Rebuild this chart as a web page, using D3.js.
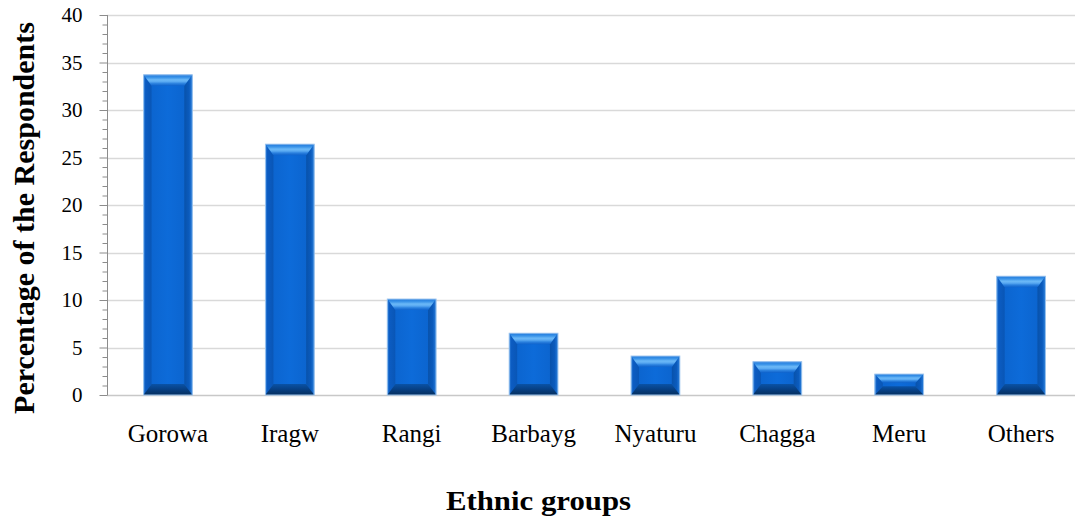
<!DOCTYPE html>
<html>
<head>
<meta charset="utf-8">
<script src="https://cdn.jsdelivr.net/npm/d3@7/dist/d3.min.js"></script>
<style>
  html, body { margin: 0; padding: 0; background: #fff; }
  svg { display: block; }
</style>
</head>
<body>
<svg id="chart" width="1075" height="521"></svg>
<script>
const categories = ["Gorowa", "Iragw", "Rangi", "Barbayg", "Nyaturu", "Chagga", "Meru", "Others"];
const values = [33.7, 26.4, 10.1, 6.5, 4.1, 3.5, 2.2, 12.5];
const yTicks = [0, 5, 10, 15, 20, 25, 30, 35, 40];
const yTitle = "Percentage of the Respondents";
const xTitle = "Ethnic groups";

const W = 1075, H = 521;
const plot = { left: 107, right: 1082, top: 15, bottom: 395 };

const svg = d3.select("#chart");
const serif = "'Liberation Serif', 'Times New Roman', serif";

const x = d3.scaleBand().domain(categories).range([plot.left, plot.right])
  .paddingInner(0.6).paddingOuter(0.3);
const y = d3.scaleLinear().domain([0, 40]).range([plot.bottom, plot.top]);

// defs: gradients
const defs = svg.append("defs");
function lin(id, x1, y1, x2, y2, stops) {
  const g = defs.append("linearGradient").attr("id", id)
    .attr("x1", x1).attr("y1", y1).attr("x2", x2).attr("y2", y2);
  stops.forEach(s => g.append("stop").attr("offset", s[0]).attr("stop-color", s[1]));
}
lin("gFace", 0, 0, 1, 0, [[0, "#0b62cb"], [0.5, "#0d6bd9"], [1, "#0b62cb"]]);
lin("gTop", 0, 0, 0, 1, [[0, "#2079dc"], [0.25, "#3c95e9"], [0.45, "#6cb9f7"], [0.62, "#5aaaf2"], [0.8, "#2a80de"], [1, "#0f62cb"]]);
lin("gBot", 0, 0, 0, 1, [[0, "#0a52a6"], [0.5, "#073f82"], [1, "#052f5e"]]);
lin("gLeft", 0, 0, 1, 0, [[0, "#3a8ae2"], [0.25, "#0c5cc2"], [1, "#0956b6"]]);
lin("gRight", 0, 0, 1, 0, [[0, "#0852ab"], [0.6, "#0b5bbd"], [1, "#2a7fdc"]]);

// gridlines
svg.append("g").selectAll("line").data(yTicks.filter(d => d > 0)).join("line")
  .attr("x1", plot.left).attr("x2", plot.right)
  .attr("y1", d => Math.round(y(d)) + 0.5).attr("y2", d => Math.round(y(d)) + 0.5)
  .attr("stroke", "#d9d9d9").attr("stroke-width", 1.3);

// baseline
svg.append("line")
  .attr("x1", plot.left).attr("x2", plot.right)
  .attr("y1", Math.round(y(0)) + 0.5).attr("y2", Math.round(y(0)) + 0.5)
  .attr("stroke", "#c8c8c8").attr("stroke-width", 1.3);

// y axis with minor ticks
const minor = d3.range(0, 41, 1).filter(d => d % 5 !== 0);
const yAxisMinor = d3.axisLeft(y).tickValues(minor).tickSize(5).tickFormat("");
const gMinor = svg.append("g").attr("transform", `translate(${plot.left + 0.5},0)`).call(yAxisMinor);
gMinor.select(".domain").remove();
gMinor.selectAll("line").attr("stroke", "#8c8c8c");

const yAxis = d3.axisLeft(y).tickValues(yTicks).tickSize(8).tickPadding(17).tickFormat(d3.format("d"));
const gY = svg.append("g").attr("transform", `translate(${plot.left + 0.5},0)`).call(yAxis);
gY.attr("font-family", serif);
gY.select(".domain").attr("stroke", "#8c8c8c").attr("d", `M0,${plot.top}V${plot.bottom}`);
gY.selectAll("line").attr("stroke", "#8c8c8c");
gY.selectAll("text").style("font-family", serif).attr("font-size", 21).attr("fill", "#000");

// bars with bevel
const bars = svg.append("g").selectAll("g").data(categories.map((c, i) => ({ c, v: values[i] }))).join("g");
bars.each(function (d) {
  const g = d3.select(this);
  const x0 = x(d.c), x1 = x(d.c) + x.bandwidth();
  const yT = y(d.v), yB = y(0);
  const h = yB - yT;
  const bx = 8;
  const by = Math.min(11, h / 2.4);
  g.append("rect").attr("x", x0).attr("y", yT).attr("width", x1 - x0).attr("height", h).attr("fill", "url(#gFace)");
  const poly = pts => pts.map(p => p.join(",")).join(" ");
  g.append("polygon").attr("points", poly([[x0, yT], [x0 + bx, yT + by], [x0 + bx, yB - by], [x0, yB]])).attr("fill", "url(#gLeft)");
  g.append("polygon").attr("points", poly([[x1, yT], [x1 - bx, yT + by], [x1 - bx, yB - by], [x1, yB]])).attr("fill", "url(#gRight)");
  g.append("polygon").attr("points", poly([[x0, yT], [x1, yT], [x1 - bx, yT + by], [x0 + bx, yT + by]])).attr("fill", "url(#gTop)");
  g.append("polygon").attr("points", poly([[x0, yB], [x1, yB], [x1 - bx, yB - by], [x0 + bx, yB - by]])).attr("fill", "url(#gBot)");
  g.append("rect").attr("x", x0).attr("y", yT).attr("width", x1 - x0).attr("height", h)
    .attr("fill", "none").attr("stroke", "#9cc4ee").attr("stroke-width", 1);
});

// x labels
const xAxis = d3.axisBottom(x).tickSize(0).tickPadding(0);
const gX = svg.append("g").attr("transform", `translate(0,${plot.bottom})`).call(xAxis);
gX.attr("font-family", serif);
gX.select(".domain").remove();
gX.selectAll("text").style("font-family", serif).attr("font-size", 25).attr("fill", "#000")
  .attr("dy", null).attr("y", 47);

// axis titles
svg.append("text")
  .attr("transform", `translate(${W / 2 + 1},510) scale(1.1,1)`)
  .attr("text-anchor", "middle").style("font-family", serif).attr("font-weight", "bold")
  .attr("font-size", 28).attr("fill", "#000").text(xTitle);

svg.append("text")
  .attr("transform", `translate(34,218) rotate(-90)`)
  .attr("text-anchor", "middle").style("font-family", serif).attr("font-weight", "bold")
  .attr("font-size", 30).attr("fill", "#000").text(yTitle);
</script>
</body>
</html>
